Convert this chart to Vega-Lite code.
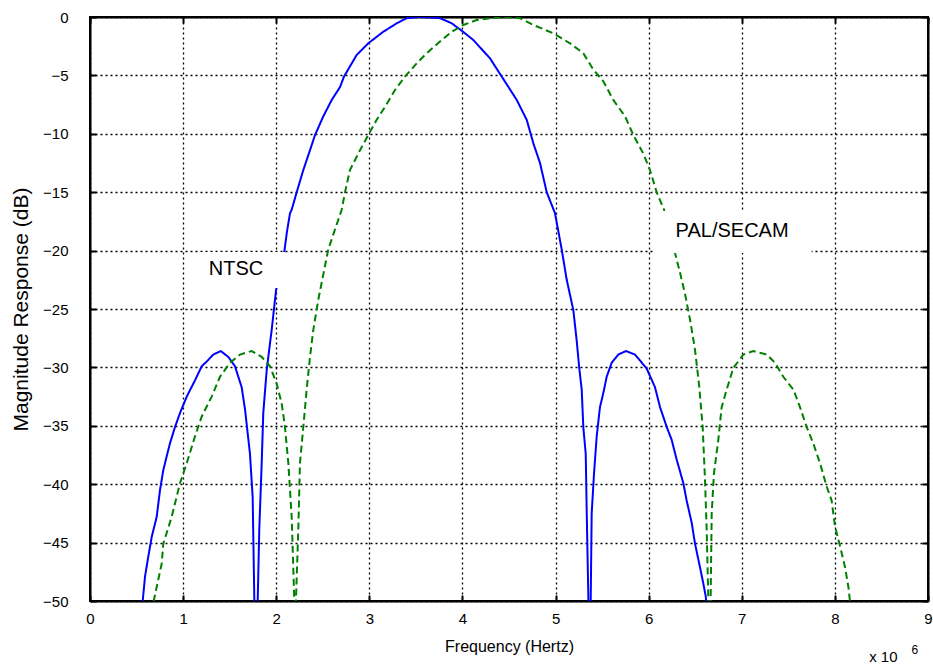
{
  "$schema": "https://vega.github.io/schema/vega-lite/v6.json",
  "width": 838,
  "height": 584,
  "autosize": {"type": "none"},
  "padding": {"left": 90, "top": 17, "right": 5, "bottom": 69},
  "background": "white",
  "config": {
    "view": {"stroke": "black", "strokeWidth": 2},
    "font": "Liberation Sans"
  },
  "datasets": {
    "curves": [
      {"s": "NTSC", "f": 0.553, "db": -51},
      {"s": "NTSC", "f": 0.566, "db": -50},
      {"s": "NTSC", "f": 0.591, "db": -47.9},
      {"s": "NTSC", "f": 0.626, "db": -46.2},
      {"s": "NTSC", "f": 0.663, "db": -44.5},
      {"s": "NTSC", "f": 0.716, "db": -42.8},
      {"s": "NTSC", "f": 0.752, "db": -40.5},
      {"s": "NTSC", "f": 0.787, "db": -38.8},
      {"s": "NTSC", "f": 0.824, "db": -37.6},
      {"s": "NTSC", "f": 0.859, "db": -36.5},
      {"s": "NTSC", "f": 0.913, "db": -35.1},
      {"s": "NTSC", "f": 0.967, "db": -33.9},
      {"s": "NTSC", "f": 1.039, "db": -32.5},
      {"s": "NTSC", "f": 1.128, "db": -31.1},
      {"s": "NTSC", "f": 1.2, "db": -29.9},
      {"s": "NTSC", "f": 1.253, "db": -29.5},
      {"s": "NTSC", "f": 1.324, "db": -28.9},
      {"s": "NTSC", "f": 1.404, "db": -28.6},
      {"s": "NTSC", "f": 1.485, "db": -29.1},
      {"s": "NTSC", "f": 1.557, "db": -29.9},
      {"s": "NTSC", "f": 1.629, "db": -31.7},
      {"s": "NTSC", "f": 1.665, "db": -33.6},
      {"s": "NTSC", "f": 1.718, "db": -37.4},
      {"s": "NTSC", "f": 1.747, "db": -41.1},
      {"s": "NTSC", "f": 1.765, "db": -50},
      {"s": "NTSC", "f": 1.783, "db": -62},
      {"s": "NTSC", "f": 1.801, "db": -50},
      {"s": "NTSC", "f": 1.818, "db": -43.9},
      {"s": "NTSC", "f": 1.844, "db": -38.2},
      {"s": "NTSC", "f": 1.861, "db": -33.9},
      {"s": "NTSC", "f": 1.898, "db": -30.2},
      {"s": "NTSC", "f": 1.951, "db": -26.8},
      {"s": "NTSC", "f": 1.998, "db": -23.4},
      {"s": "NTSC", "f": 2.087, "db": -20.1},
      {"s": "NTSC", "f": 2.113, "db": -18.5},
      {"s": "NTSC", "f": 2.148, "db": -16.8},
      {"s": "NTSC", "f": 2.166, "db": -16.5},
      {"s": "NTSC", "f": 2.22, "db": -15.0},
      {"s": "NTSC", "f": 2.291, "db": -13.1},
      {"s": "NTSC", "f": 2.363, "db": -11.4},
      {"s": "NTSC", "f": 2.417, "db": -10.1},
      {"s": "NTSC", "f": 2.506, "db": -8.5},
      {"s": "NTSC", "f": 2.596, "db": -7.1},
      {"s": "NTSC", "f": 2.685, "db": -6.0},
      {"s": "NTSC", "f": 2.728, "db": -5.1},
      {"s": "NTSC", "f": 2.864, "db": -3.25},
      {"s": "NTSC", "f": 2.989, "db": -2.25},
      {"s": "NTSC", "f": 3.15, "db": -1.26},
      {"s": "NTSC", "f": 3.294, "db": -0.54},
      {"s": "NTSC", "f": 3.401, "db": -0.1},
      {"s": "NTSC", "f": 3.544, "db": 0},
      {"s": "NTSC", "f": 3.759, "db": -0.1},
      {"s": "NTSC", "f": 3.885, "db": -0.54},
      {"s": "NTSC", "f": 3.992, "db": -1.17},
      {"s": "NTSC", "f": 4.117, "db": -1.97},
      {"s": "NTSC", "f": 4.296, "db": -3.54},
      {"s": "NTSC", "f": 4.422, "db": -5.1},
      {"s": "NTSC", "f": 4.583, "db": -7.1},
      {"s": "NTSC", "f": 4.69, "db": -8.8},
      {"s": "NTSC", "f": 4.761, "db": -10.8},
      {"s": "NTSC", "f": 4.833, "db": -12.5},
      {"s": "NTSC", "f": 4.905, "db": -15.0},
      {"s": "NTSC", "f": 4.994, "db": -16.8},
      {"s": "NTSC", "f": 5.066, "db": -19.9},
      {"s": "NTSC", "f": 5.12, "db": -22.5},
      {"s": "NTSC", "f": 5.191, "db": -25.1},
      {"s": "NTSC", "f": 5.227, "db": -27.7},
      {"s": "NTSC", "f": 5.255, "db": -30.1},
      {"s": "NTSC", "f": 5.281, "db": -31.9},
      {"s": "NTSC", "f": 5.298, "db": -35.1},
      {"s": "NTSC", "f": 5.324, "db": -37.4},
      {"s": "NTSC", "f": 5.335, "db": -42.5},
      {"s": "NTSC", "f": 5.352, "db": -49.6},
      {"s": "NTSC", "f": 5.365, "db": -62},
      {"s": "NTSC", "f": 5.378, "db": -49.6},
      {"s": "NTSC", "f": 5.388, "db": -42.5},
      {"s": "NTSC", "f": 5.413, "db": -39.1},
      {"s": "NTSC", "f": 5.442, "db": -35.9},
      {"s": "NTSC", "f": 5.477, "db": -33.4},
      {"s": "NTSC", "f": 5.513, "db": -32.2},
      {"s": "NTSC", "f": 5.549, "db": -30.8},
      {"s": "NTSC", "f": 5.603, "db": -29.6},
      {"s": "NTSC", "f": 5.674, "db": -28.9},
      {"s": "NTSC", "f": 5.757, "db": -28.6},
      {"s": "NTSC", "f": 5.853, "db": -28.9},
      {"s": "NTSC", "f": 5.979, "db": -30.1},
      {"s": "NTSC", "f": 6.068, "db": -31.7},
      {"s": "NTSC", "f": 6.122, "db": -33.4},
      {"s": "NTSC", "f": 6.194, "db": -35.1},
      {"s": "NTSC", "f": 6.247, "db": -36.2},
      {"s": "NTSC", "f": 6.301, "db": -37.9},
      {"s": "NTSC", "f": 6.372, "db": -39.9},
      {"s": "NTSC", "f": 6.408, "db": -41.4},
      {"s": "NTSC", "f": 6.462, "db": -43.3},
      {"s": "NTSC", "f": 6.498, "db": -45.1},
      {"s": "NTSC", "f": 6.551, "db": -47.1},
      {"s": "NTSC", "f": 6.587, "db": -48.5},
      {"s": "NTSC", "f": 6.613, "db": -49.6},
      {"s": "NTSC", "f": 6.627, "db": -51},
      {"s": "PAL/SECAM", "f": 0.677, "db": -51},
      {"s": "PAL/SECAM", "f": 0.687, "db": -49.9},
      {"s": "PAL/SECAM", "f": 0.77, "db": -46.8},
      {"s": "PAL/SECAM", "f": 0.787, "db": -45.1},
      {"s": "PAL/SECAM", "f": 0.877, "db": -42.8},
      {"s": "PAL/SECAM", "f": 0.967, "db": -39.9},
      {"s": "PAL/SECAM", "f": 1.039, "db": -38.2},
      {"s": "PAL/SECAM", "f": 1.128, "db": -35.9},
      {"s": "PAL/SECAM", "f": 1.2, "db": -34.2},
      {"s": "PAL/SECAM", "f": 1.307, "db": -32.5},
      {"s": "PAL/SECAM", "f": 1.396, "db": -30.8},
      {"s": "PAL/SECAM", "f": 1.504, "db": -29.6},
      {"s": "PAL/SECAM", "f": 1.611, "db": -28.9},
      {"s": "PAL/SECAM", "f": 1.737, "db": -28.6},
      {"s": "PAL/SECAM", "f": 1.844, "db": -29.1},
      {"s": "PAL/SECAM", "f": 1.933, "db": -29.9},
      {"s": "PAL/SECAM", "f": 2.005, "db": -31.4},
      {"s": "PAL/SECAM", "f": 2.059, "db": -33.1},
      {"s": "PAL/SECAM", "f": 2.094, "db": -35.1},
      {"s": "PAL/SECAM", "f": 2.13, "db": -38.2},
      {"s": "PAL/SECAM", "f": 2.166, "db": -42.8},
      {"s": "PAL/SECAM", "f": 2.194, "db": -49.9},
      {"s": "PAL/SECAM", "f": 2.203, "db": -62},
      {"s": "PAL/SECAM", "f": 2.212, "db": -49.9},
      {"s": "PAL/SECAM", "f": 2.237, "db": -43.9},
      {"s": "PAL/SECAM", "f": 2.255, "db": -38.2},
      {"s": "PAL/SECAM", "f": 2.291, "db": -35.1},
      {"s": "PAL/SECAM", "f": 2.327, "db": -31.9},
      {"s": "PAL/SECAM", "f": 2.363, "db": -29.1},
      {"s": "PAL/SECAM", "f": 2.398, "db": -26.8},
      {"s": "PAL/SECAM", "f": 2.452, "db": -24.2},
      {"s": "PAL/SECAM", "f": 2.559, "db": -19.9},
      {"s": "PAL/SECAM", "f": 2.703, "db": -16.5},
      {"s": "PAL/SECAM", "f": 2.739, "db": -15.0},
      {"s": "PAL/SECAM", "f": 2.792, "db": -13.1},
      {"s": "PAL/SECAM", "f": 2.9, "db": -11.4},
      {"s": "PAL/SECAM", "f": 2.989, "db": -10.1},
      {"s": "PAL/SECAM", "f": 3.079, "db": -8.8},
      {"s": "PAL/SECAM", "f": 3.168, "db": -7.7},
      {"s": "PAL/SECAM", "f": 3.276, "db": -6.25},
      {"s": "PAL/SECAM", "f": 3.383, "db": -5.1},
      {"s": "PAL/SECAM", "f": 3.509, "db": -3.96},
      {"s": "PAL/SECAM", "f": 3.616, "db": -3.1},
      {"s": "PAL/SECAM", "f": 3.759, "db": -2.1},
      {"s": "PAL/SECAM", "f": 3.885, "db": -1.26},
      {"s": "PAL/SECAM", "f": 4.009, "db": -0.68},
      {"s": "PAL/SECAM", "f": 4.153, "db": -0.26},
      {"s": "PAL/SECAM", "f": 4.296, "db": -0.1},
      {"s": "PAL/SECAM", "f": 4.457, "db": 0},
      {"s": "PAL/SECAM", "f": 4.618, "db": -0.1},
      {"s": "PAL/SECAM", "f": 4.761, "db": -0.68},
      {"s": "PAL/SECAM", "f": 4.976, "db": -1.4},
      {"s": "PAL/SECAM", "f": 5.155, "db": -2.25},
      {"s": "PAL/SECAM", "f": 5.298, "db": -3.1},
      {"s": "PAL/SECAM", "f": 5.405, "db": -4.5},
      {"s": "PAL/SECAM", "f": 5.513, "db": -5.5},
      {"s": "PAL/SECAM", "f": 5.62, "db": -7.1},
      {"s": "PAL/SECAM", "f": 5.746, "db": -8.5},
      {"s": "PAL/SECAM", "f": 5.835, "db": -10.1},
      {"s": "PAL/SECAM", "f": 5.943, "db": -11.7},
      {"s": "PAL/SECAM", "f": 6.014, "db": -13.1},
      {"s": "PAL/SECAM", "f": 6.086, "db": -15.0},
      {"s": "PAL/SECAM", "f": 6.165, "db": -16.5},
      {"s": "PAL/SECAM", "f": 6.283, "db": -20.2},
      {"s": "PAL/SECAM", "f": 6.337, "db": -21.9},
      {"s": "PAL/SECAM", "f": 6.39, "db": -23.7},
      {"s": "PAL/SECAM", "f": 6.444, "db": -25.9},
      {"s": "PAL/SECAM", "f": 6.498, "db": -28.5},
      {"s": "PAL/SECAM", "f": 6.544, "db": -31.7},
      {"s": "PAL/SECAM", "f": 6.58, "db": -35.1},
      {"s": "PAL/SECAM", "f": 6.605, "db": -39.6},
      {"s": "PAL/SECAM", "f": 6.623, "db": -43.9},
      {"s": "PAL/SECAM", "f": 6.64, "db": -49.6},
      {"s": "PAL/SECAM", "f": 6.653, "db": -62},
      {"s": "PAL/SECAM", "f": 6.666, "db": -49.6},
      {"s": "PAL/SECAM", "f": 6.677, "db": -42.5},
      {"s": "PAL/SECAM", "f": 6.701, "db": -39.1},
      {"s": "PAL/SECAM", "f": 6.748, "db": -36.2},
      {"s": "PAL/SECAM", "f": 6.784, "db": -33.4},
      {"s": "PAL/SECAM", "f": 6.838, "db": -31.9},
      {"s": "PAL/SECAM", "f": 6.909, "db": -30.05},
      {"s": "PAL/SECAM", "f": 7.016, "db": -28.9},
      {"s": "PAL/SECAM", "f": 7.124, "db": -28.6},
      {"s": "PAL/SECAM", "f": 7.268, "db": -28.9},
      {"s": "PAL/SECAM", "f": 7.357, "db": -29.6},
      {"s": "PAL/SECAM", "f": 7.446, "db": -30.8},
      {"s": "PAL/SECAM", "f": 7.554, "db": -31.9},
      {"s": "PAL/SECAM", "f": 7.625, "db": -33.4},
      {"s": "PAL/SECAM", "f": 7.697, "db": -35.1},
      {"s": "PAL/SECAM", "f": 7.768, "db": -36.5},
      {"s": "PAL/SECAM", "f": 7.84, "db": -38.2},
      {"s": "PAL/SECAM", "f": 7.912, "db": -40.2},
      {"s": "PAL/SECAM", "f": 7.965, "db": -41.4},
      {"s": "PAL/SECAM", "f": 8.001, "db": -43.6},
      {"s": "PAL/SECAM", "f": 8.055, "db": -45.3},
      {"s": "PAL/SECAM", "f": 8.109, "db": -47.1},
      {"s": "PAL/SECAM", "f": 8.145, "db": -48.8},
      {"s": "PAL/SECAM", "f": 8.163, "db": -50.1},
      {"s": "PAL/SECAM", "f": 8.173, "db": -51}
    ],
    "boxes": [
      {"f1": 1.18, "f2": 2.1, "d1": -20.12, "d2": -23.2},
      {"f1": 6.06, "f2": 7.75, "d1": -16.6, "d2": -20.2}
    ],
    "labels": [
      {"t": "NTSC", "f": 1.568, "db": -21.6},
      {"t": "PAL/SECAM", "f": 6.896, "db": -18.35}
    ]
  },
  "resolve": {"axis": {"x": "independent", "y": "independent"}},
  "layer": [
    {
      "data": {"name": "curves"},
      "mark": {"type": "line", "clip": true, "strokeWidth": 2},
      "encoding": {
        "x": {
          "field": "f", "type": "quantitative",
          "scale": {"domain": [0, 9], "nice": false, "zero": false},
          "axis": {
            "orient": "bottom",
            "values": [0, 1, 2, 3, 4, 5, 6, 7, 8, 9],
            "title": "Frequency (Hertz)",
            "titleFont": "Liberation Sans", "titleFontSize": 16, "titleFontWeight": "normal", "titleColor": "black",
            "titlePadding": 12,
            "labelFont": "Liberation Sans", "labelFontSize": 15, "labelColor": "black",
            "labelFlush": false, "labelOverlap": false, "labelPadding": 16,
            "grid": true, "gridColor": "black", "gridDash": [2, 3], "gridWidth": 1.3, "gridOpacity": 1,
            "domainColor": "black", "domainWidth": 2,
            "tickColor": "black", "tickSize": -6, "tickWidth": 2
          }
        },
        "y": {
          "field": "db", "type": "quantitative",
          "scale": {"domain": [-50, 0], "nice": false, "zero": false},
          "axis": {
            "orient": "left",
            "values": [-50, -45, -40, -35, -30, -25, -20, -15, -10, -5, 0],
            "title": "Magnitude Response (dB)",
            "titleFont": "Liberation Sans", "titleFontSize": 21, "titleFontWeight": "normal", "titleColor": "black",
            "titlePadding": 11,
            "labelFont": "Liberation Sans", "labelFontSize": 15, "labelColor": "black",
            "labelFlush": false, "labelOverlap": false, "labelPadding": 28,
            "grid": true, "gridColor": "black", "gridDash": [2, 3], "gridWidth": 1.3, "gridOpacity": 1,
            "domainColor": "black", "domainWidth": 2,
            "tickColor": "black", "tickSize": -6, "tickWidth": 2
          }
        },
        "color": {
          "field": "s", "type": "nominal",
          "scale": {"domain": ["NTSC", "PAL/SECAM"], "range": ["#0000ff", "#008000"]},
          "legend": null
        },
        "strokeDash": {
          "field": "s", "type": "nominal",
          "scale": {"domain": ["NTSC", "PAL/SECAM"], "range": [[1, 0], [7, 4]]},
          "legend": null
        }
      }
    },
    {
      "data": {"name": "boxes"},
      "mark": {"type": "rect", "fill": "white", "stroke": null},
      "encoding": {
        "x": {"field": "f1", "type": "quantitative",
          "axis": {"orient": "top", "labels": false, "title": null, "grid": false,
            "values": [0, 1, 2, 3, 4, 5, 6, 7, 8, 9],
            "domainColor": "black", "domainWidth": 2,
            "tickColor": "black", "tickSize": -6, "tickWidth": 2}},
        "x2": {"field": "f2"},
        "y": {"field": "d1", "type": "quantitative",
          "axis": {"orient": "right", "labels": false, "title": null, "grid": false,
            "values": [-50, -45, -40, -35, -30, -25, -20, -15, -10, -5, 0],
            "domainColor": "black", "domainWidth": 2,
            "tickColor": "black", "tickSize": -6, "tickWidth": 2}},
        "y2": {"field": "d2"}
      }
    },
    {
      "data": {"name": "labels"},
      "mark": {"type": "text", "font": "Liberation Sans", "fontSize": 20, "color": "black", "align": "center", "baseline": "middle"},
      "encoding": {
        "x": {"field": "f", "type": "quantitative", "axis": null},
        "y": {"field": "db", "type": "quantitative", "axis": null},
        "text": {"field": "t"}
      }
    },
    {
      "data": {"values": [{"t": "x 10"}]},
      "mark": {"type": "text", "font": "Liberation Sans", "fontSize": 15, "color": "black", "align": "center", "baseline": "middle"},
      "encoding": {
        "x": {"datum": 8.52, "type": "quantitative", "axis": null},
        "y": {"datum": -54.8, "type": "quantitative", "axis": null},
        "text": {"field": "t"}
      }
    },
    {
      "data": {"values": [{"t": "6"}]},
      "mark": {"type": "text", "font": "Liberation Sans", "fontSize": 12, "color": "black", "align": "center", "baseline": "middle"},
      "encoding": {
        "x": {"datum": 8.86, "type": "quantitative", "axis": null},
        "y": {"datum": -54.2, "type": "quantitative", "axis": null},
        "text": {"field": "t"}
      }
    }
  ]
}
